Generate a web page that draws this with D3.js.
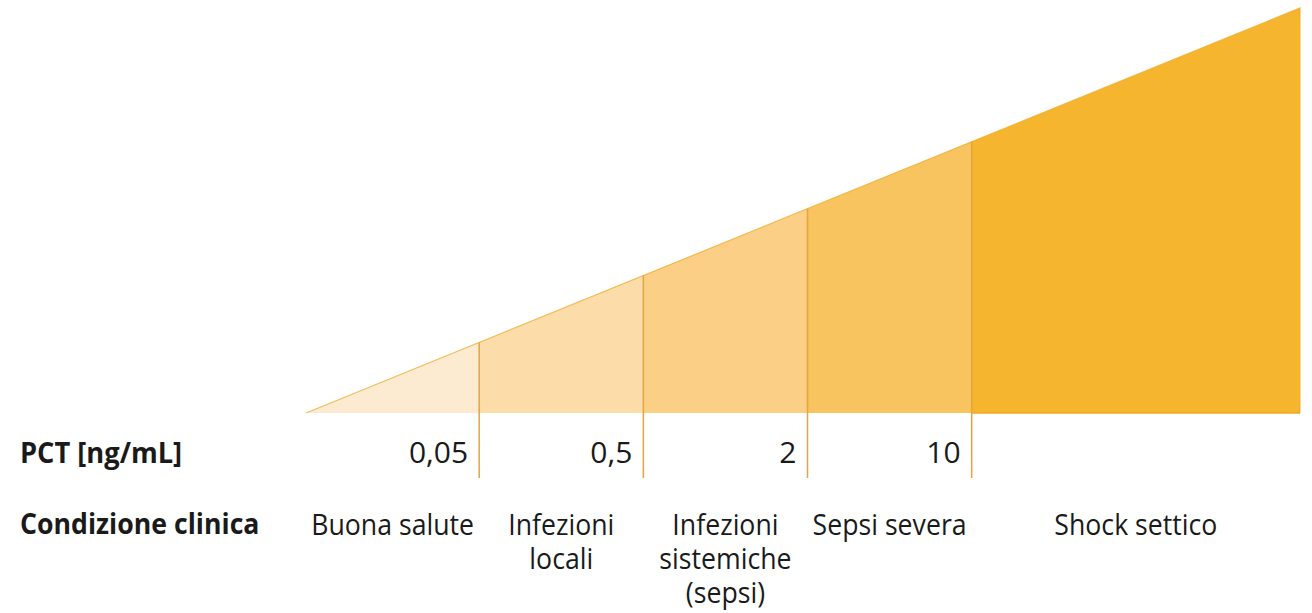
<!DOCTYPE html>
<html>
<head>
<meta charset="utf-8">
<script src="https://cdn.jsdelivr.net/npm/d3@7"></script>
<style>
  body { margin: 0; background: #fff; }
  text { font-family: "Open Sans", sans-serif; fill: #1a1a1a; }
</style>
</head>
<body>
<script>
// thresholds of PCT between the clinical bands
const thresholds = ["0,05", "0,5", "2", "10"];
const conditions = [
  ["Buona salute"],
  ["Infezioni", "locali"],
  ["Infezioni", "sistemiche", "(sepsi)"],
  ["Sepsi severa"],
  ["Shock settico"],
];
// band edges in band units (last band is twice as wide)
const edges = [-0.055, 1, 2, 3, 4, 6];
const colors = ["#fdebd1", "#fcddaa", "#fbcf86", "#f8c460", "#f6b52f"];

const width = 1312, height = 613;
const svg = d3.select("body").append("svg")
  .attr("width", width)
  .attr("height", height);

const x = d3.scaleLinear().domain([edges[0], edges[edges.length - 1]]).range([306, 1300]);
// height of the wedge grows linearly with x
const y = d3.scaleLinear().domain([edges[0], edges[edges.length - 1]]).range([413, 8]);
const baseY = 413;

// segments of the wedge
svg.selectAll("path.band")
  .data(colors)
  .enter()
  .append("path")
  .attr("class", "band")
  .attr("fill", d => d)
  .attr("d", (d, i) => {
    const a = edges[i], b = edges[i + 1];
    return `M${x(a)},${baseY}L${x(a)},${y(a)}L${x(b)},${y(b)}L${x(b)},${baseY}Z`;
  });

// upper edge and right edge
svg.append("path")
  .attr("fill", "none")
  .attr("stroke", "#eea51c")
  .attr("stroke-opacity", 0.7)
  .attr("stroke-width", 1.2)
  .attr("d", `M${x(edges[0])},${baseY}L${x(6)},${y(6)}L${x(6)},${baseY}`);
svg.append("line")
  .attr("x1", x(4)).attr("x2", x(6))
  .attr("y1", baseY).attr("y2", baseY)
  .attr("stroke", "#efaa22").attr("stroke-width", 1.5);

// dividers at thresholds
svg.selectAll("line.div")
  .data(thresholds)
  .enter()
  .append("line")
  .attr("class", "div")
  .attr("x1", (d, i) => x(i + 1))
  .attr("x2", (d, i) => x(i + 1))
  .attr("y1", (d, i) => y(i + 1))
  .attr("y2", 478)
  .attr("stroke", "#e5a53a")
  .attr("stroke-width", 1.5);

// threshold values
svg.selectAll("text.th")
  .data(thresholds)
  .enter()
  .append("text")
  .attr("class", "th")
  .attr("x", (d, i) => x(i + 1) - 11)
  .attr("y", 463)
  .attr("text-anchor", "end")
  .attr("font-size", 30)
  .text(d => d);

// row titles
svg.append("text")
  .attr("transform", "translate(20,463) scale(0.94,1)")
  .attr("font-size", 29).attr("font-weight", "bold")
  .text("PCT [ng/mL]");
svg.append("text")
  .attr("transform", "translate(20,534) scale(0.92,1)")
  .attr("font-size", 29).attr("font-weight", "bold")
  .text("Condizione clinica");

// clinical conditions, centred in their band, one text per line
const lines = conditions.flatMap((c, i) => c.map((t, j) => ({ t, i, j })));
svg.selectAll("text.cond")
  .data(lines)
  .enter()
  .append("text")
  .attr("class", "cond")
  .attr("text-anchor", "middle")
  .attr("font-size", 29)
  .attr("transform", d => `translate(${(x(edges[d.i]) + x(edges[d.i + 1])) / 2},${535 + d.j * 34}) scale(0.92,1)`)
  .text(d => d.t);
</script>
</body>
</html>
